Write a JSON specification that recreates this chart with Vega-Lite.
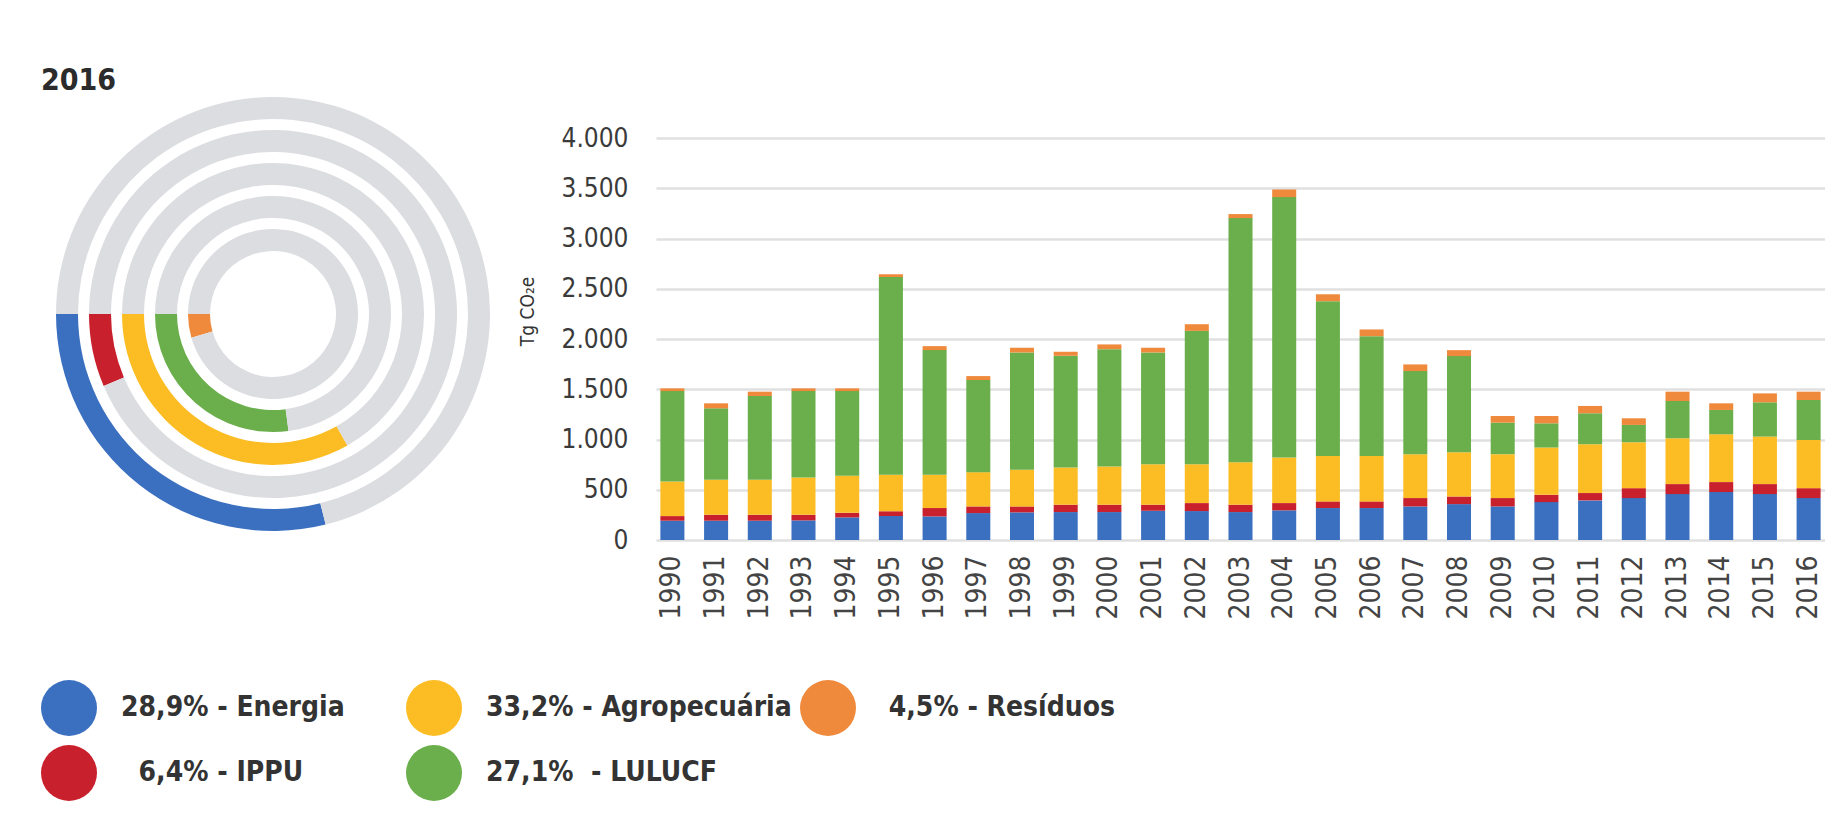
{
  "$schema": "https://vega.github.io/schema/vega-lite/v6.json",
  "background": "white",
  "padding": {"left": 41, "top": 66, "right": 0, "bottom": 0},
  "config": {
    "view": {"stroke": null},
    "font": "Liberation Sans Narrow, DejaVu Sans Condensed, Roboto, sans-serif"
  },
  "datasets": {
    "rings": [
      {"sector": "Energia", "ring": 5, "share": 28.9},
      {"sector": "resto", "ring": 5, "share": 71.1},
      {"sector": "IPPU", "ring": 4, "share": 6.4},
      {"sector": "resto", "ring": 4, "share": 93.6},
      {"sector": "Agropecuária", "ring": 3, "share": 33.2},
      {"sector": "resto", "ring": 3, "share": 66.8},
      {"sector": "LULUCF", "ring": 2, "share": 27.1},
      {"sector": "resto", "ring": 2, "share": 72.9},
      {"sector": "Resíduos", "ring": 1, "share": 4.5},
      {"sector": "resto", "ring": 1, "share": 95.5}
    ],
    "emissions": [
      {"year": 1990, "sector": "Energia", "order": 1, "value": 192},
      {"year": 1990, "sector": "IPPU", "order": 2, "value": 46},
      {"year": 1990, "sector": "Agropecuária", "order": 3, "value": 344},
      {"year": 1990, "sector": "LULUCF", "order": 4, "value": 900},
      {"year": 1990, "sector": "Resíduos", "order": 5, "value": 27},
      {"year": 1991, "sector": "Energia", "order": 1, "value": 192},
      {"year": 1991, "sector": "IPPU", "order": 2, "value": 59},
      {"year": 1991, "sector": "Agropecuária", "order": 3, "value": 348},
      {"year": 1991, "sector": "LULUCF", "order": 4, "value": 711},
      {"year": 1991, "sector": "Resíduos", "order": 5, "value": 50},
      {"year": 1992, "sector": "Energia", "order": 1, "value": 192},
      {"year": 1992, "sector": "IPPU", "order": 2, "value": 59},
      {"year": 1992, "sector": "Agropecuária", "order": 3, "value": 348},
      {"year": 1992, "sector": "LULUCF", "order": 4, "value": 834},
      {"year": 1992, "sector": "Resíduos", "order": 5, "value": 43},
      {"year": 1993, "sector": "Energia", "order": 1, "value": 195},
      {"year": 1993, "sector": "IPPU", "order": 2, "value": 56},
      {"year": 1993, "sector": "Agropecuária", "order": 3, "value": 371},
      {"year": 1993, "sector": "LULUCF", "order": 4, "value": 860},
      {"year": 1993, "sector": "Resíduos", "order": 5, "value": 27},
      {"year": 1994, "sector": "Energia", "order": 1, "value": 225},
      {"year": 1994, "sector": "IPPU", "order": 2, "value": 46},
      {"year": 1994, "sector": "Agropecuária", "order": 3, "value": 368},
      {"year": 1994, "sector": "LULUCF", "order": 4, "value": 843},
      {"year": 1994, "sector": "Resíduos", "order": 5, "value": 27},
      {"year": 1995, "sector": "Energia", "order": 1, "value": 238},
      {"year": 1995, "sector": "IPPU", "order": 2, "value": 47},
      {"year": 1995, "sector": "Agropecuária", "order": 3, "value": 364},
      {"year": 1995, "sector": "LULUCF", "order": 4, "value": 1968},
      {"year": 1995, "sector": "Resíduos", "order": 5, "value": 27},
      {"year": 1996, "sector": "Energia", "order": 1, "value": 235},
      {"year": 1996, "sector": "IPPU", "order": 2, "value": 83},
      {"year": 1996, "sector": "Agropecuária", "order": 3, "value": 331},
      {"year": 1996, "sector": "LULUCF", "order": 4, "value": 1241},
      {"year": 1996, "sector": "Resíduos", "order": 5, "value": 39},
      {"year": 1997, "sector": "Energia", "order": 1, "value": 268},
      {"year": 1997, "sector": "IPPU", "order": 2, "value": 66},
      {"year": 1997, "sector": "Agropecuária", "order": 3, "value": 341},
      {"year": 1997, "sector": "LULUCF", "order": 4, "value": 917},
      {"year": 1997, "sector": "Resíduos", "order": 5, "value": 39},
      {"year": 1998, "sector": "Energia", "order": 1, "value": 275},
      {"year": 1998, "sector": "IPPU", "order": 2, "value": 59},
      {"year": 1998, "sector": "Agropecuária", "order": 3, "value": 364},
      {"year": 1998, "sector": "LULUCF", "order": 4, "value": 1168},
      {"year": 1998, "sector": "Resíduos", "order": 5, "value": 47},
      {"year": 1999, "sector": "Energia", "order": 1, "value": 278},
      {"year": 1999, "sector": "IPPU", "order": 2, "value": 73},
      {"year": 1999, "sector": "Agropecuária", "order": 3, "value": 370},
      {"year": 1999, "sector": "LULUCF", "order": 4, "value": 1112},
      {"year": 1999, "sector": "Resíduos", "order": 5, "value": 40},
      {"year": 2000, "sector": "Energia", "order": 1, "value": 278},
      {"year": 2000, "sector": "IPPU", "order": 2, "value": 73},
      {"year": 2000, "sector": "Agropecuária", "order": 3, "value": 380},
      {"year": 2000, "sector": "LULUCF", "order": 4, "value": 1168},
      {"year": 2000, "sector": "Resíduos", "order": 5, "value": 47},
      {"year": 2001, "sector": "Energia", "order": 1, "value": 291},
      {"year": 2001, "sector": "IPPU", "order": 2, "value": 60},
      {"year": 2001, "sector": "Agropecuária", "order": 3, "value": 403},
      {"year": 2001, "sector": "LULUCF", "order": 4, "value": 1112},
      {"year": 2001, "sector": "Resíduos", "order": 5, "value": 47},
      {"year": 2002, "sector": "Energia", "order": 1, "value": 288},
      {"year": 2002, "sector": "IPPU", "order": 2, "value": 79},
      {"year": 2002, "sector": "Agropecuária", "order": 3, "value": 387},
      {"year": 2002, "sector": "LULUCF", "order": 4, "value": 1327},
      {"year": 2002, "sector": "Resíduos", "order": 5, "value": 66},
      {"year": 2003, "sector": "Energia", "order": 1, "value": 278},
      {"year": 2003, "sector": "IPPU", "order": 2, "value": 73},
      {"year": 2003, "sector": "Agropecuária", "order": 3, "value": 423},
      {"year": 2003, "sector": "LULUCF", "order": 4, "value": 2429},
      {"year": 2003, "sector": "Resíduos", "order": 5, "value": 40},
      {"year": 2004, "sector": "Energia", "order": 1, "value": 295},
      {"year": 2004, "sector": "IPPU", "order": 2, "value": 72},
      {"year": 2004, "sector": "Agropecuária", "order": 3, "value": 454},
      {"year": 2004, "sector": "LULUCF", "order": 4, "value": 2591},
      {"year": 2004, "sector": "Resíduos", "order": 5, "value": 76},
      {"year": 2005, "sector": "Energia", "order": 1, "value": 318},
      {"year": 2005, "sector": "IPPU", "order": 2, "value": 66},
      {"year": 2005, "sector": "Agropecuária", "order": 3, "value": 453},
      {"year": 2005, "sector": "LULUCF", "order": 4, "value": 1539},
      {"year": 2005, "sector": "Resíduos", "order": 5, "value": 69},
      {"year": 2006, "sector": "Energia", "order": 1, "value": 318},
      {"year": 2006, "sector": "IPPU", "order": 2, "value": 66},
      {"year": 2006, "sector": "Agropecuária", "order": 3, "value": 453},
      {"year": 2006, "sector": "LULUCF", "order": 4, "value": 1191},
      {"year": 2006, "sector": "Resíduos", "order": 5, "value": 67},
      {"year": 2007, "sector": "Energia", "order": 1, "value": 334},
      {"year": 2007, "sector": "IPPU", "order": 2, "value": 83},
      {"year": 2007, "sector": "Agropecuária", "order": 3, "value": 437},
      {"year": 2007, "sector": "LULUCF", "order": 4, "value": 827},
      {"year": 2007, "sector": "Resíduos", "order": 5, "value": 66},
      {"year": 2008, "sector": "Energia", "order": 1, "value": 357},
      {"year": 2008, "sector": "IPPU", "order": 2, "value": 76},
      {"year": 2008, "sector": "Agropecuária", "order": 3, "value": 441},
      {"year": 2008, "sector": "LULUCF", "order": 4, "value": 956},
      {"year": 2008, "sector": "Resíduos", "order": 5, "value": 59},
      {"year": 2009, "sector": "Energia", "order": 1, "value": 334},
      {"year": 2009, "sector": "IPPU", "order": 2, "value": 83},
      {"year": 2009, "sector": "Agropecuária", "order": 3, "value": 437},
      {"year": 2009, "sector": "LULUCF", "order": 4, "value": 314},
      {"year": 2009, "sector": "Resíduos", "order": 5, "value": 66},
      {"year": 2010, "sector": "Energia", "order": 1, "value": 377},
      {"year": 2010, "sector": "IPPU", "order": 2, "value": 73},
      {"year": 2010, "sector": "Agropecuária", "order": 3, "value": 470},
      {"year": 2010, "sector": "LULUCF", "order": 4, "value": 241},
      {"year": 2010, "sector": "Resíduos", "order": 5, "value": 73},
      {"year": 2011, "sector": "Energia", "order": 1, "value": 394},
      {"year": 2011, "sector": "IPPU", "order": 2, "value": 73},
      {"year": 2011, "sector": "Agropecuária", "order": 3, "value": 486},
      {"year": 2011, "sector": "LULUCF", "order": 4, "value": 308},
      {"year": 2011, "sector": "Resíduos", "order": 5, "value": 73},
      {"year": 2012, "sector": "Energia", "order": 1, "value": 417},
      {"year": 2012, "sector": "IPPU", "order": 2, "value": 99},
      {"year": 2012, "sector": "Agropecuária", "order": 3, "value": 457},
      {"year": 2012, "sector": "LULUCF", "order": 4, "value": 172},
      {"year": 2012, "sector": "Resíduos", "order": 5, "value": 66},
      {"year": 2013, "sector": "Energia", "order": 1, "value": 457},
      {"year": 2013, "sector": "IPPU", "order": 2, "value": 99},
      {"year": 2013, "sector": "Agropecuária", "order": 3, "value": 457},
      {"year": 2013, "sector": "LULUCF", "order": 4, "value": 370},
      {"year": 2013, "sector": "Resíduos", "order": 5, "value": 93},
      {"year": 2014, "sector": "Energia", "order": 1, "value": 477},
      {"year": 2014, "sector": "IPPU", "order": 2, "value": 99},
      {"year": 2014, "sector": "Agropecuária", "order": 3, "value": 476},
      {"year": 2014, "sector": "LULUCF", "order": 4, "value": 242},
      {"year": 2014, "sector": "Resíduos", "order": 5, "value": 66},
      {"year": 2015, "sector": "Energia", "order": 1, "value": 457},
      {"year": 2015, "sector": "IPPU", "order": 2, "value": 99},
      {"year": 2015, "sector": "Agropecuária", "order": 3, "value": 473},
      {"year": 2015, "sector": "LULUCF", "order": 4, "value": 341},
      {"year": 2015, "sector": "Resíduos", "order": 5, "value": 89},
      {"year": 2016, "sector": "Energia", "order": 1, "value": 417},
      {"year": 2016, "sector": "IPPU", "order": 2, "value": 99},
      {"year": 2016, "sector": "Agropecuária", "order": 3, "value": 480},
      {"year": 2016, "sector": "LULUCF", "order": 4, "value": 397},
      {"year": 2016, "sector": "Resíduos", "order": 5, "value": 83}
    ]
  },
  "bounds": "flush",
  "spacing": 151,
  "resolve": {"legend": {"color": "independent"}},
  "hconcat": [
    {
      "width": 464,
      "height": 352,
      "title": {"text": "2016", "anchor": "start", "fontSize": 30, "fontWeight": "bold", "color": "#2b2b2b", "offset": 1},
      "data": {"name": "rings"},
      "encoding": {
        "theta": {"field": "share", "type": "quantitative", "stack": true, "scale": {"domain": [0, 100], "range": [4.71238898, -1.57079633]}},
        "color": {
          "field": "sector", "type": "nominal",
          "scale": {"domain": ["Energia", "Agropecuária", "Resíduos", "IPPU", "LULUCF", "resto"], "range": ["#3b70c1", "#fbbd23", "#ef8a3c", "#c8202c", "#6aaf4b", "#dcdde1"]},
          "legend": null
        }
      },
      "layer": [
        {"transform": [{"filter": "datum.ring === 5"}], "mark": {"type": "arc", "outerRadius": 217, "innerRadius": 195}},
        {"transform": [{"filter": "datum.ring === 4"}], "mark": {"type": "arc", "outerRadius": 184, "innerRadius": 162}},
        {"transform": [{"filter": "datum.ring === 3"}], "mark": {"type": "arc", "outerRadius": 151, "innerRadius": 129}},
        {"transform": [{"filter": "datum.ring === 2"}], "mark": {"type": "arc", "outerRadius": 118, "innerRadius": 96}},
        {"transform": [{"filter": "datum.ring === 1"}], "mark": {"type": "arc", "outerRadius": 85, "innerRadius": 63}}
      ]
    },
    {
      "width": 1169,
      "height": 402,
      "data": {"name": "emissions"},
      "mark": {"type": "bar"},
      "encoding": {
        "x": {
          "field": "year", "type": "ordinal",
          "scale": {"paddingInner": 0.45, "paddingOuter": 0.1},
          "axis": {"title": null, "labelAngle": -90, "labelFontSize": 28, "labelColor": "#444444", "labelPadding": 15, "ticks": false, "domain": false}
        },
        "y": {
          "field": "value", "type": "quantitative", "stack": "zero",
          "scale": {"domain": [0, 4000], "nice": false},
          "axis": {
            "values": [0, 500, 1000, 1500, 2000, 2500, 3000, 3500, 4000],
            "labelExpr": "replace(format(datum.value, ','), ',', '.')",
            "title": "Tg CO₂e", "titleX": -129, "titleY": 173, "titleFontSize": 19, "titleFontWeight": "normal", "titleColor": "#333333", "titleBaseline": "middle",
            "labelFontSize": 26, "labelColor": "#3a3a3a", "labelPadding": 28,
            "ticks": false, "domain": false, "gridColor": "#e0e0e0", "gridWidth": 2.5
          }
        },
        "color": {
          "field": "sector", "type": "nominal",
          "scale": {"domain": ["Energia", "Agropecuária", "Resíduos", "IPPU", "LULUCF", "resto"], "range": ["#3b70c1", "#fbbd23", "#ef8a3c", "#c8202c", "#6aaf4b", "#dcdde1"]},
          "legend": {
            "values": ["Energia", "Agropecuária", "Resíduos", "IPPU", "LULUCF"],
            "orient": "none", "legendX": -615, "legendY": 542, "direction": "horizontal", "columns": 3,
            "title": null, "symbolType": "circle", "symbolSize": 3136, "symbolStrokeWidth": 0, "symbolOpacity": 1,
            "labelFontSize": 28, "labelFontWeight": "bold", "labelColor": "#333333", "labelOffset": 24,
            "columnPadding": 8, "rowPadding": 9, "labelLimit": 0, "padding": 0,
            "labelExpr": "datum.label === 'Energia' ? '28,9% - Energia\u00a0\u00a0\u00a0\u00a0\u00a0\u00a0\u200b' : datum.label === 'Agropecuária' ? '33,2% - Agropecuária' : datum.label === 'Resíduos' ? '\u200b\u00a04,5% - Resíduos' : datum.label === 'IPPU' ? '\u200b\u00a0\u00a06,4% - IPPU' : '27,1%\u00a0 - LULUCF'"
          }
        },
        "order": {"field": "order", "type": "quantitative"}
      }
    }
  ]
}
